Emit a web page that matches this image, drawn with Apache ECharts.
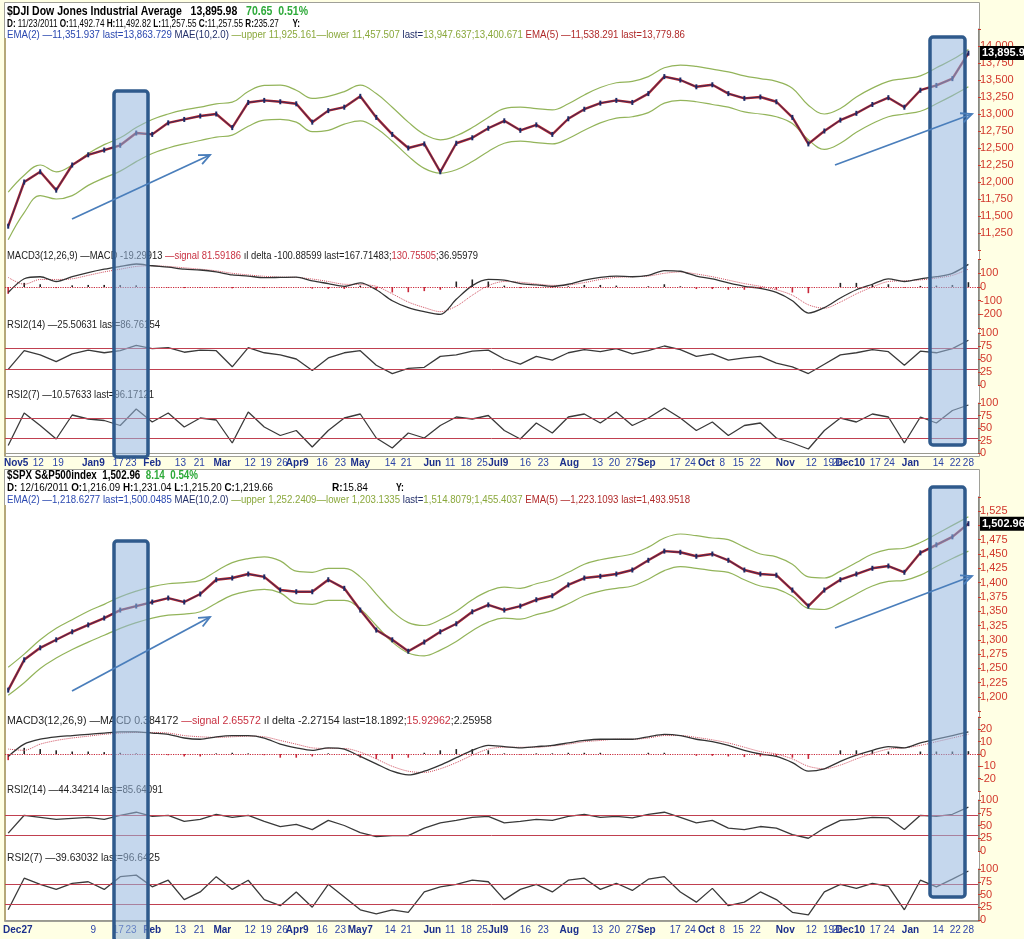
<!DOCTYPE html>
<html><head><meta charset="utf-8">
<script src="https://cdn.jsdelivr.net/npm/echarts@6/dist/echarts.min.js"></script>
<style>html,body{margin:0;padding:0;background:#ffffe4}#c{width:1024px;height:939px}</style>
</head><body><div id="c"></div>
<script>
const FONT = '"Liberation Sans","DejaVu Sans",sans-serif';

// ---- x axis tick labels (trading-day index, weekly slots are 5 days apart) ----
const topTickDays = [2.5,9.4,15.6,26.6,34.4,38.4,45,53.8,59.7,66.9,75.6,80.6,85.6,90.3,98.1,103.8,110,119.4,124.4,132.5,138.1,143.1,148.1,153.1,161.6,167.2,175.3,184.1,189.4,194.7,199.4,208.4,213.1,218.1,223.1,228.1,233.4,242.8,250.9,256.3,259.1,263.1,270.9,275.3,281.9,290.6,295.9,300];
const topTickText = ['Nov5','12','19','Jan9','17','23','Feb','13','21','Mar','12','19','26','Apr9','16','23','May','14','21','Jun','11','18','25','Jul9','16','23','Aug','13','20','27','Sep','17','24','Oct','8','15','22','Nov','12','19','26','Dec10','17','24','Jan','14','22','28'];
const botTickDays = [3,26.6,34.4,38.4,45,53.8,59.7,66.9,75.6,80.6,85.6,90.3,98.1,103.8,110,119.4,124.4,132.5,138.1,143.1,148.1,153.1,161.6,167.2,175.3,184.1,189.4,194.7,199.4,208.4,213.1,218.1,223.1,228.1,233.4,242.8,250.9,256.3,259.1,263.1,270.9,275.3,281.9,290.6,295.9,300];
const botTickText = ['Dec27','9','17','23','Feb','13','21','Mar','12','19','26','Apr9','16','23','May7','14','21','Jun','11','18','25','Jul9','16','23','Aug','13','20','27','Sep','17','24','Oct','8','15','22','Nov','12','19','26','Dec10','17','24','Jan','14','22','28'];

// ---- $DJI (weekly samples) ----
const djiClose = [11350,12000,12150,11880,12250,12400,12470,12540,12720,12700,12870,12920,12970,13000,12800,13170,13200,13180,13150,12880,13050,13100,13260,12950,12700,12500,12560,12150,12570,12650,12790,12900,12760,12840,12700,12930,13070,13160,13200,13170,13300,13550,13500,13400,13430,13300,13230,13250,13180,12950,12560,12750,12910,13010,13140,13240,13100,13350,13420,13520,13895];
const djiUpper = [11850,12100,12250,12150,12250,12420,12550,12650,12800,12920,13000,13060,13100,13150,13175,13330,13420,13425,13350,13230,13260,13330,13425,13300,13100,12880,12700,12620,12680,12800,12950,13080,13100,13080,13060,13150,13280,13390,13460,13480,13550,13680,13720,13700,13660,13620,13560,13520,13480,13380,13130,13000,13080,13250,13380,13480,13520,13560,13680,13800,13950];
const djiLower = [11150,11550,11800,11750,11800,11950,12060,12160,12300,12420,12500,12560,12610,12660,12690,12820,12910,12920,12880,12740,12760,12850,12900,12790,12600,12380,12200,12130,12180,12300,12450,12570,12600,12580,12560,12640,12760,12870,12940,12960,13020,13160,13200,13180,13140,13100,13030,13000,12960,12860,12620,12480,12570,12730,12860,12960,13000,13040,13150,13270,13400];
const djiMacd = [-40,60,75,40,75,105,130,150,168,155,145,130,124,110,88,80,68,70,72,45,25,5,30,-20,-100,-150,-180,-200,-90,10,55,50,25,15,5,20,50,70,80,75,85,120,115,80,60,30,5,-10,-40,-100,-190,-150,-80,-20,20,60,40,60,75,100,165];
const djiSignal = [70,20,55,55,60,85,110,130,150,155,150,140,130,118,100,88,78,72,70,58,40,20,18,5,-50,-110,-150,-180,-140,-60,10,40,35,22,12,15,32,55,70,75,80,100,110,95,75,50,25,5,-20,-60,-130,-155,-110,-50,0,40,45,52,65,85,130];
const djiHist = [-50,30,20,-8,12,15,15,14,12,0,-5,-8,-6,-6,-10,-6,-8,-2,0,-12,-14,-14,10,-20,-40,-38,-30,-20,40,55,40,10,-8,-6,-6,5,15,15,10,0,5,20,5,-15,-15,-20,-20,-15,-20,-40,-45,0,30,30,20,20,-5,8,10,15,35];
const djiRsi14 = [30,66,58,45,60,67,62,66,76,70,72,63,67,66,35,72,62,58,50,28,52,62,66,38,22,32,34,55,58,65,67,50,40,55,48,62,68,64,70,60,66,75,68,55,60,48,52,55,42,35,22,40,58,62,68,64,38,65,62,70,86];
const djiRsi7 = [15,80,55,28,76,68,65,55,88,62,80,52,70,66,20,82,52,35,45,12,45,70,78,30,10,40,30,55,72,68,75,45,28,60,40,72,78,60,82,55,70,90,70,45,62,35,55,60,30,20,8,45,70,62,78,72,20,72,60,85,96];
const djiLast = 13895.98;

// ---- $SPX (weekly samples) ----
const spxClose = [1212,1265,1286,1300,1314,1326,1338,1352,1359,1366,1373,1366,1380,1405,1408,1415,1410,1387,1384,1384,1405,1390,1352,1317,1300,1280,1296,1314,1328,1349,1361,1352,1359,1370,1377,1396,1408,1411,1415,1422,1439,1455,1453,1446,1450,1439,1422,1415,1413,1387,1359,1387,1405,1415,1425,1429,1418,1452,1466,1480,1503];
const spxUpper = [1252,1275,1300,1320,1335,1350,1362,1375,1385,1393,1398,1400,1404,1420,1435,1442,1445,1438,1420,1418,1425,1425,1410,1380,1350,1330,1325,1335,1350,1370,1385,1392,1390,1398,1405,1418,1432,1440,1445,1450,1462,1478,1485,1482,1478,1475,1462,1450,1445,1432,1410,1408,1420,1435,1450,1458,1460,1470,1485,1500,1515];
const spxLower = [1203,1225,1250,1268,1283,1296,1308,1320,1330,1338,1343,1345,1349,1364,1378,1385,1388,1382,1364,1362,1369,1369,1354,1325,1296,1277,1272,1282,1297,1316,1331,1338,1336,1344,1351,1363,1377,1385,1390,1394,1406,1421,1428,1425,1421,1418,1405,1394,1389,1376,1355,1353,1365,1380,1394,1402,1404,1413,1428,1442,1455];
const spxMacd = [-2,8,12,14,15,16,17,18,18,17,16,13,12,14,15,15,13,8,5,3,5,4,-2,-8,-14,-17,-14,-9,-3,3,7,6,5,6,7,9,11,12,12,12,14,16,15,12,10,7,3,0,-2,-7,-14,-12,-6,-1,3,6,5,9,12,15,18];
const spxSignal = [4,3,8,11,13,14.5,16,17,17.5,17.5,17,15,14,13.5,14,14.5,14,11,8,5,4.5,4.5,1.5,-4,-10,-14,-15,-12,-7,-1,4,5.5,5.5,5.5,6.5,8,10,11,12,12,13,15,15,13.5,11.5,9,5.5,2,0,-4,-10,-12,-9,-4,0.5,4,5,7,10,13,16];
const spxHist = [-5,5,4,3,2,2,1.5,1,0.5,-0.5,-1,-2,-2,0.5,1,0.5,-1,-3,-3,-2,0.5,-0.5,-3,-4,-4,-3,1,3,4,4,3,0.5,-0.5,0.5,0.5,1,1,1,0,0,1,1,0,-1.5,-1.5,-2,-2.5,-2,-2,-3,-4,0,3,3,2.5,2,0,2,2,2,2.3];
const spxRsi14 = [35,70,66,62,64,66,62,70,76,68,70,58,62,72,66,70,58,48,52,42,60,50,36,28,30,30,45,55,60,66,68,55,58,62,60,68,72,66,68,65,72,76,66,55,60,45,42,48,45,32,25,45,60,62,66,65,42,70,68,72,86];
const spxRsi7 = [20,82,70,60,72,75,60,85,88,65,78,40,55,85,60,78,40,28,55,25,70,45,20,12,20,15,55,65,70,78,75,40,60,70,55,78,82,60,72,58,80,85,55,35,62,28,35,55,40,15,10,55,70,62,72,66,20,78,65,80,96];
const spxLast = 1502.96;

// ---------------------------------------------------------------
const D = arr => arr.map((v, i) => [i * 5, v]);
const fmtNum = v => Number(v).toLocaleString('en-US');
const GL = 5, GR = 46;
const grids = [
  {top: 29, height: 221},      // DJI price 11000..14250
  {top: 259.6, height: 68.5},  // DJI MACD -300..200
  {top: 333, height: 52},      // DJI RSI14
  {top: 403, height: 50},      // DJI RSI7
  {top: 496.8, height: 214.5}, // SPX price 1175..1550
  {top: 717.1, height: 73.8},  // SPX MACD -30..30
  {top: 800, height: 51},      // SPX RSI14
  {top: 869, height: 51}       // SPX RSI7
].map(g => Object.assign({left: GL, right: GR, containLabel: false}, g));

function xAx(gi, days, texts) {
  const show = !!days;
  return {
    type: 'value', gridIndex: gi, min: -1, max: 303,
    splitLine: {show: false}, axisTick: {show: false},
    axisLine: {show: show, onZero: false, lineStyle: {color: '#9a9a90'}},
    axisLabel: show ? {
      show: true, customValues: days, margin: 5, fontSize: 10, fontFamily: FONT,
      formatter: v => {
        const i = days.indexOf(v);
        if (i < 0) return '';
        const t = texts[i];
        return /[A-Za-z]/.test(t) ? '{m|' + t + '}' : '{d|' + t + '}';
      },
      rich: {
        m: {fontWeight: 'bold', color: '#1b2f8c', fontSize: 10, fontFamily: FONT},
        d: {color: '#2c44a8', fontSize: 10, fontFamily: FONT}
      }
    } : {show: false}
  };
}
function yAx(gi, min, max, interval, lo, hi, skip) {
  return {
    type: 'value', gridIndex: gi, position: 'right', min, max, interval,
    splitLine: {show: false},
    axisLine: {show: true, onZero: false, lineStyle: {color: '#8a8a80'}},
    axisTick: {show: true, length: 3, lineStyle: {color: '#c83a2a'}},
    axisLabel: {
      color: '#d2382c', fontSize: 11, fontFamily: FONT, margin: 2,
      formatter: v => (v < lo || v > hi || (skip && skip.includes(v))) ? '' : fmtNum(v)
    }
  };
}

const xAxes = [xAx(0), xAx(1), xAx(2), xAx(3, topTickDays, topTickText), xAx(4), xAx(5), xAx(6), xAx(7, botTickDays, botTickText)];
const yAxes = [
  yAx(0, 11000, 14250, 250, 11250, 14000),
  yAx(1, -300, 200, 100, -200, 100),
  yAx(2, 0, 100, 25, 0, 100),
  yAx(3, 0, 100, 25, 0, 100),
  yAx(4, 1175, 1550, 25, 1200, 1525, [1500]),
  yAx(5, -30, 30, 10, -20, 20),
  yAx(6, 0, 100, 25, 0, 100),
  yAx(7, 0, 100, 25, 0, 100)
];

function priceSeries(gi, close, up, lo) {
  return [
    {type: 'line', xAxisIndex: gi, yAxisIndex: gi, data: D(up), smooth: 0.4, showSymbol: false, lineStyle: {color: '#93b45a', width: 1.2}},
    {type: 'line', xAxisIndex: gi, yAxisIndex: gi, data: D(lo), smooth: 0.4, showSymbol: false, lineStyle: {color: '#93b45a', width: 1.2}},
    {type: 'line', xAxisIndex: gi, yAxisIndex: gi, data: D(close), showSymbol: false, lineStyle: {color: '#b3262c', width: 2.4}},
    {type: 'line', xAxisIndex: gi, yAxisIndex: gi, data: D(close), showSymbol: true, symbol: 'rect', symbolSize: [2, 5],
     itemStyle: {color: '#1c2a66'}, lineStyle: {color: '#1c2a66', width: 0.8}}
  ];
}
function macdSeries(gi, macd, sig, hist) {
  return [
    {type: 'bar', xAxisIndex: gi, yAxisIndex: gi, data: D(hist), barWidth: 1.6,
     itemStyle: {color: p => p.value[1] >= 0 ? '#222' : '#c8283a'},
     markLine: {silent: true, symbol: 'none', label: {show: false}, data: [{yAxis: 0}],
                lineStyle: {color: '#c8283a', type: 'dotted', width: 1.2}}},
    {type: 'line', xAxisIndex: gi, yAxisIndex: gi, data: D(sig), smooth: 0.3, showSymbol: false, lineStyle: {color: '#d05060', width: 1, type: 'dotted'}},
    {type: 'line', xAxisIndex: gi, yAxisIndex: gi, data: D(macd), smooth: 0.3, showSymbol: false, lineStyle: {color: '#333', width: 1.3}}
  ];
}
function rsiSeries(gi, rsi) {
  return [{type: 'line', xAxisIndex: gi, yAxisIndex: gi, data: D(rsi), showSymbol: false, lineStyle: {color: '#3a3a3a', width: 1.3},
    markLine: {silent: true, symbol: 'none', label: {show: false}, data: [{yAxis: 70}, {yAxis: 30}],
               lineStyle: {color: '#c04050', type: 'solid', width: 1}}}];
}

const series = [].concat(
  priceSeries(0, djiClose, djiUpper, djiLower), macdSeries(1, djiMacd, djiSignal, djiHist),
  rsiSeries(2, djiRsi14), rsiSeries(3, djiRsi7),
  priceSeries(4, spxClose, spxUpper, spxLower), macdSeries(5, spxMacd, spxSignal, spxHist),
  rsiSeries(6, spxRsi14), rsiSeries(7, spxRsi7)
);

// ---- text styles & annotations ----
const R = {
  h: {fontWeight: 'bold', fill: '#000', fontSize: 12, fontFamily: FONT},
  g: {fontWeight: 'bold', fill: '#2eaa3a', fontSize: 12, fontFamily: FONT},
  k: {fontWeight: 'bold', fill: '#000', fontSize: 11, fontFamily: FONT},
  n: {fontWeight: 'normal', fill: '#000', fontSize: 11, fontFamily: FONT},
  bl: {fontWeight: 'normal', fill: '#2a48b0', fontSize: 11, fontFamily: FONT},
  gr: {fontWeight: 'normal', fill: '#8aa83c', fontSize: 11, fontFamily: FONT},
  dk: {fontWeight: 'normal', fill: '#23306a', fontSize: 11, fontFamily: FONT},
  rd: {fontWeight: 'normal', fill: '#b02a2a', fontSize: 11, fontFamily: FONT},
  ik: {fontWeight: 'normal', fill: '#222', fontSize: 11, fontFamily: FONT},
  ir: {fontWeight: 'normal', fill: '#c83040', fontSize: 11, fontFamily: FONT}
};
const mctx = document.createElement('canvas').getContext('2d');
function segW(segs) {
  let w = 0;
  for (const [k, t] of segs) {
    const s = R[k];
    mctx.font = s.fontWeight + ' ' + s.fontSize + 'px ' + FONT;
    w += mctx.measureText(t).width;
  }
  return w;
}
// text fitted horizontally between x and endX (narrow UI font look)
function fitTxt(x, y, segs, endX) {
  const sx = (endX - x) / segW(segs);
  return {type: 'text', z: 50, x, y, scaleX: sx, scaleY: 1,
    style: {x: 0, y: 0, verticalAlign: 'middle',
      text: segs.map(([k, t]) => '{' + k + '|' + t + '}').join(''), rich: R}};
}
function arrow(x1, y1, x2, y2) {
  const a = Math.atan2(y2 - y1, x2 - x1), L = 12, w = 0.42;
  const p1 = [x2 - L * Math.cos(a - w), y2 - L * Math.sin(a - w)];
  const p2 = [x2 - L * Math.cos(a + w), y2 - L * Math.sin(a + w)];
  return [
    {type: 'line', z: 100, shape: {x1, y1, x2, y2}, style: {stroke: '#4a7ebb', lineWidth: 1.8}},
    {type: 'polyline', z: 100, shape: {points: [p1, [x2, y2], p2]}, style: {stroke: '#4a7ebb', lineWidth: 1.8, fill: null}}
  ];
}
function hl(x, y, w, h) {
  return {type: 'rect', z: 90, shape: {x, y, width: w, height: h, r: 3},
          style: {fill: 'rgba(150,182,222,0.55)', stroke: '#2f5a8c', lineWidth: 3.5}};
}
const baseGraphic = [
  {type: 'rect', z: -20, shape: {x: 4.5, y: 2.5, width: 975, height: 454}, style: {fill: '#fff', stroke: '#a0a098', lineWidth: 1}},
  {type: 'rect', z: -20, shape: {x: 4.5, y: 469.5, width: 975, height: 452}, style: {fill: '#fff', stroke: '#a0a098', lineWidth: 1}},
  {type: 'line', z: -10, shape: {x1: 5, y1: 38, x2: 5, y2: 456}, style: {stroke: '#b5a878', lineWidth: 2}},
  {type: 'line', z: -10, shape: {x1: 5, y1: 505, x2: 5, y2: 921}, style: {stroke: '#b5a878', lineWidth: 2}},
  fitTxt(7, 12, [['h', '$DJI Dow Jones Industrial Average   13,895.98   '], ['g', '70.65  0.51%']], 308),
  fitTxt(7, 24, [['k', 'D: '], ['n', '11/23/2011 '], ['k', 'O:'], ['n', '11,492.74 '], ['k', 'H:'], ['n', '11,492.82 '], ['k', 'L:'], ['n', '11,257.55 '], ['k', 'C:'], ['n', '11,257.55 '], ['k', 'R:'], ['n', '235.27      '], ['k', 'Y:']], 300),
  fitTxt(7, 35, [['bl', 'EMA(2) —11,351.937 last=13,863.729'], ['dk', ' MAE(10,2.0) '], ['gr', '—upper 11,925.161—lower 11,457.507'], ['dk', ' last='], ['gr', '13,947.637;13,400.671'], ['rd', ' EMA(5) —11,538.291 last=13,779.86']], 685),
  fitTxt(7, 256, [['ik', 'MACD3(12,26,9) —MACD -19.29913 '], ['ir', '—signal 81.59186'], ['ik', ' ıl delta -100.88599 last=167.71483;'], ['ir', '130.75505'], ['ik', ';36.95979']], 478),
  fitTxt(7, 325, [['ik', 'RSI2(14) —25.50631 last=86.76154']], 160),
  fitTxt(7, 395, [['ik', 'RSI2(7) —10.57633 last=96.17121']], 154),
  fitTxt(7, 476, [['h', '$SPX S&P500index  1,502.96  '], ['g', '8.14  0.54%']], 198),
  fitTxt(7, 488, [['k', 'D: '], ['n', '12/16/2011 '], ['k', 'O:'], ['n', '1,216.09 '], ['k', 'H:'], ['n', '1,231.04 '], ['k', 'L:'], ['n', '1,215.20 '], ['k', 'C:'], ['n', '1,219.66']], 273),
  fitTxt(332, 488, [['k', 'R:'], ['n', '15.84']], 368),
  fitTxt(396, 488, [['k', 'Y:']], 404),
  fitTxt(7, 500, [['bl', 'EMA(2) —1,218.6277 last=1,500.0485'], ['dk', ' MAE(10,2.0) '], ['gr', '—upper 1,252.2409—lower 1,203.1335'], ['dk', ' last='], ['gr', '1,514.8079;1,455.4037'], ['rd', ' EMA(5) —1,223.1093 last=1,493.9518']], 690),
  fitTxt(7, 721, [['ik', 'MACD3(12,26,9) —MACD 0.384172 '], ['ir', '—signal 2.65572'], ['ik', ' ıl delta -2.27154 last=18.1892;'], ['ir', '15.92962'], ['ik', ';2.25958']], 492),
  fitTxt(7, 790, [['ik', 'RSI2(14) —44.34214 last=85.64091']], 163),
  fitTxt(7, 858, [['ik', 'RSI2(7) —39.63032 last=96.6425']], 160),
  hl(114, 91, 34, 366),
  hl(930, 37, 35, 408),
  hl(114, 541, 34, 400),
  hl(930, 487, 35, 410)
].concat(arrow(72, 219, 210, 155), arrow(835, 165, 972, 114), arrow(72, 691, 210, 617), arrow(835, 628, 972, 576));

const chart = echarts.init(document.getElementById('c'), null, {renderer: 'canvas'});
chart.setOption({
  animation: false, backgroundColor: '#ffffe4',
  grid: grids, xAxis: xAxes, yAxis: yAxes, series, graphic: baseGraphic
});

function tag(gi, val, label) {
  const y = chart.convertToPixel({xAxisIndex: gi, yAxisIndex: gi}, [0, val])[1];
  return [
    {type: 'rect', z: 120, shape: {x: 980, y: y - 7, width: 50, height: 14}, style: {fill: '#000'}},
    {type: 'text', z: 121, style: {x: 982, y: y, text: label, verticalAlign: 'middle', fill: '#fff', font: 'bold 11px ' + FONT}}
  ];
}
chart.setOption({graphic: baseGraphic.concat(tag(0, djiLast, '13,895.98'), tag(4, spxLast, '1,502.96'))});
</script></body></html>
